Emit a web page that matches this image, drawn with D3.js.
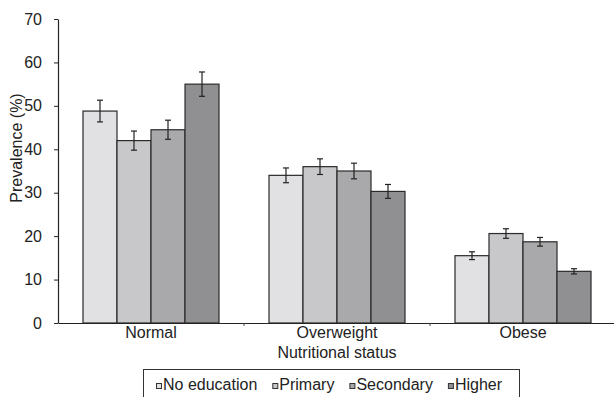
<!DOCTYPE html>
<html><head><meta charset="utf-8">
<script src="https://cdn.jsdelivr.net/npm/d3@7"></script>
<style>
body{margin:0;background:#fff;}
text{font-family:"Liberation Sans",Arial,sans-serif;fill:#222;}
</style></head>
<body><svg id="c" width="614" height="397"></svg>
<script>
const categories = ["Normal", "Overweight", "Obese"];
const seriesNames = ["No education", "Primary", "Secondary", "Higher"];
const noEducation = [48.8, 34.0, 15.5];
const primary     = [42.0, 36.0, 20.6];
const secondary   = [44.5, 35.0, 18.7];
const higher      = [55.0, 30.3, 11.9];
const errNoEducation = [2.5, 1.7, 0.9];
const errPrimary     = [2.2, 1.8, 1.1];
const errSecondary   = [2.2, 1.8, 1.0];
const errHigher      = [2.8, 1.6, 0.6];
const yTicks = [0, 10, 20, 30, 40, 50, 60, 70];
const colors = ["#e1e1e3", "#c8c8ca", "#a9a9ab", "#909093"];

const values = [noEducation, primary, secondary, higher];
const errs = [errNoEducation, errPrimary, errSecondary, errHigher];
const FONT = '"Liberation Sans",Arial,sans-serif';
const FS = 16;

const svg = d3.select("#c");
const x0 = d3.scaleBand().domain(categories).range([58, 616]).paddingInner(0).paddingOuter(0);
const x1 = d3.scaleBand().domain(seriesNames).range([0, x0.bandwidth()]).paddingInner(0).paddingOuter(0.735);
const y = d3.scaleLinear().domain([0, 70]).range([323, 19]);

// bars
const groups = svg.append("g").selectAll("g").data(categories).join("g")
  .attr("transform", d => `translate(${x0(d)},0)`);
groups.each(function(cat, ci){
  const g = d3.select(this);
  seriesNames.forEach((s, si) => {
    const v = values[si][ci], e = errs[si][ci];
    g.append("rect").attr("x", x1(s)).attr("y", y(v))
      .attr("width", x1.bandwidth()).attr("height", y(0) - y(v))
      .attr("fill", colors[si]).attr("stroke", "#2a2a2a").attr("stroke-width", 1.2);
    const cx = x1(s) + x1.bandwidth()/2;
    const eg = g.append("g").attr("stroke", "#222").attr("stroke-width", 1.2);
    eg.append("line").attr("x1", cx).attr("x2", cx).attr("y1", y(v+e)).attr("y2", y(v-e));
    eg.append("line").attr("x1", cx-3).attr("x2", cx+3).attr("y1", y(v+e)).attr("y2", y(v+e));
    eg.append("line").attr("x1", cx-3).attr("x2", cx+3).attr("y1", y(v-e)).attr("y2", y(v-e));
  });
});

// y axis
const ya = svg.append("g").attr("transform", "translate(58,0)")
  .call(d3.axisLeft(y).tickValues(yTicks).tickSize(4).tickSizeOuter(0).tickPadding(12));
ya.select(".domain").attr("stroke", "#222").attr("stroke-width", 1.2);
ya.selectAll(".tick line").attr("stroke", "#222");
ya.selectAll("text").attr("font-size", FS).attr("fill", "#222").style("font-family", FONT);

// x axis
const xa = svg.append("g").attr("transform", `translate(0,${y(0)})`)
  .call(d3.axisBottom(x0).tickSize(0).tickSizeOuter(0).tickPadding(4));
xa.select(".domain").attr("stroke", "#222").attr("stroke-width", 1.2);
xa.selectAll("text").attr("font-size", FS).attr("fill", "#222").attr("dy", "0.71em")
  .style("font-family", FONT);
// separator ticks between groups
svg.append("g").selectAll("line").data(categories.slice(1)).join("line")
  .attr("x1", d => x0(d)).attr("x2", d => x0(d))
  .attr("y1", y(0)).attr("y2", y(0) + 3).attr("stroke", "#444");

// axis titles
svg.append("text").attr("x", 337).attr("y", 358).attr("text-anchor", "middle")
  .attr("font-size", FS).text("Nutritional status");
svg.append("text").attr("transform", "translate(22,148) rotate(-90)").attr("text-anchor", "middle")
  .attr("font-size", FS).text("Prevalence (%)");

// legend
const lg = svg.append("g");
lg.append("rect").attr("x", 143.5).attr("y", 369.5).attr("width", 376).attr("height", 40)
  .attr("fill", "#fff").attr("stroke", "#333").attr("stroke-width", 1);
let lx = 156;
seriesNames.forEach((s, si) => {
  lg.append("rect").attr("x", lx + 0.5).attr("y", 383.5).attr("width", 5).attr("height", 5)
    .attr("fill", colors[si]).attr("stroke", "#333").attr("stroke-width", 1);
  const t = lg.append("text").attr("x", lx + 7).attr("y", 390).attr("font-size", FS).text(s);
  lx += 7 + t.node().getComputedTextLength() + 15;
});
</script></body></html>
